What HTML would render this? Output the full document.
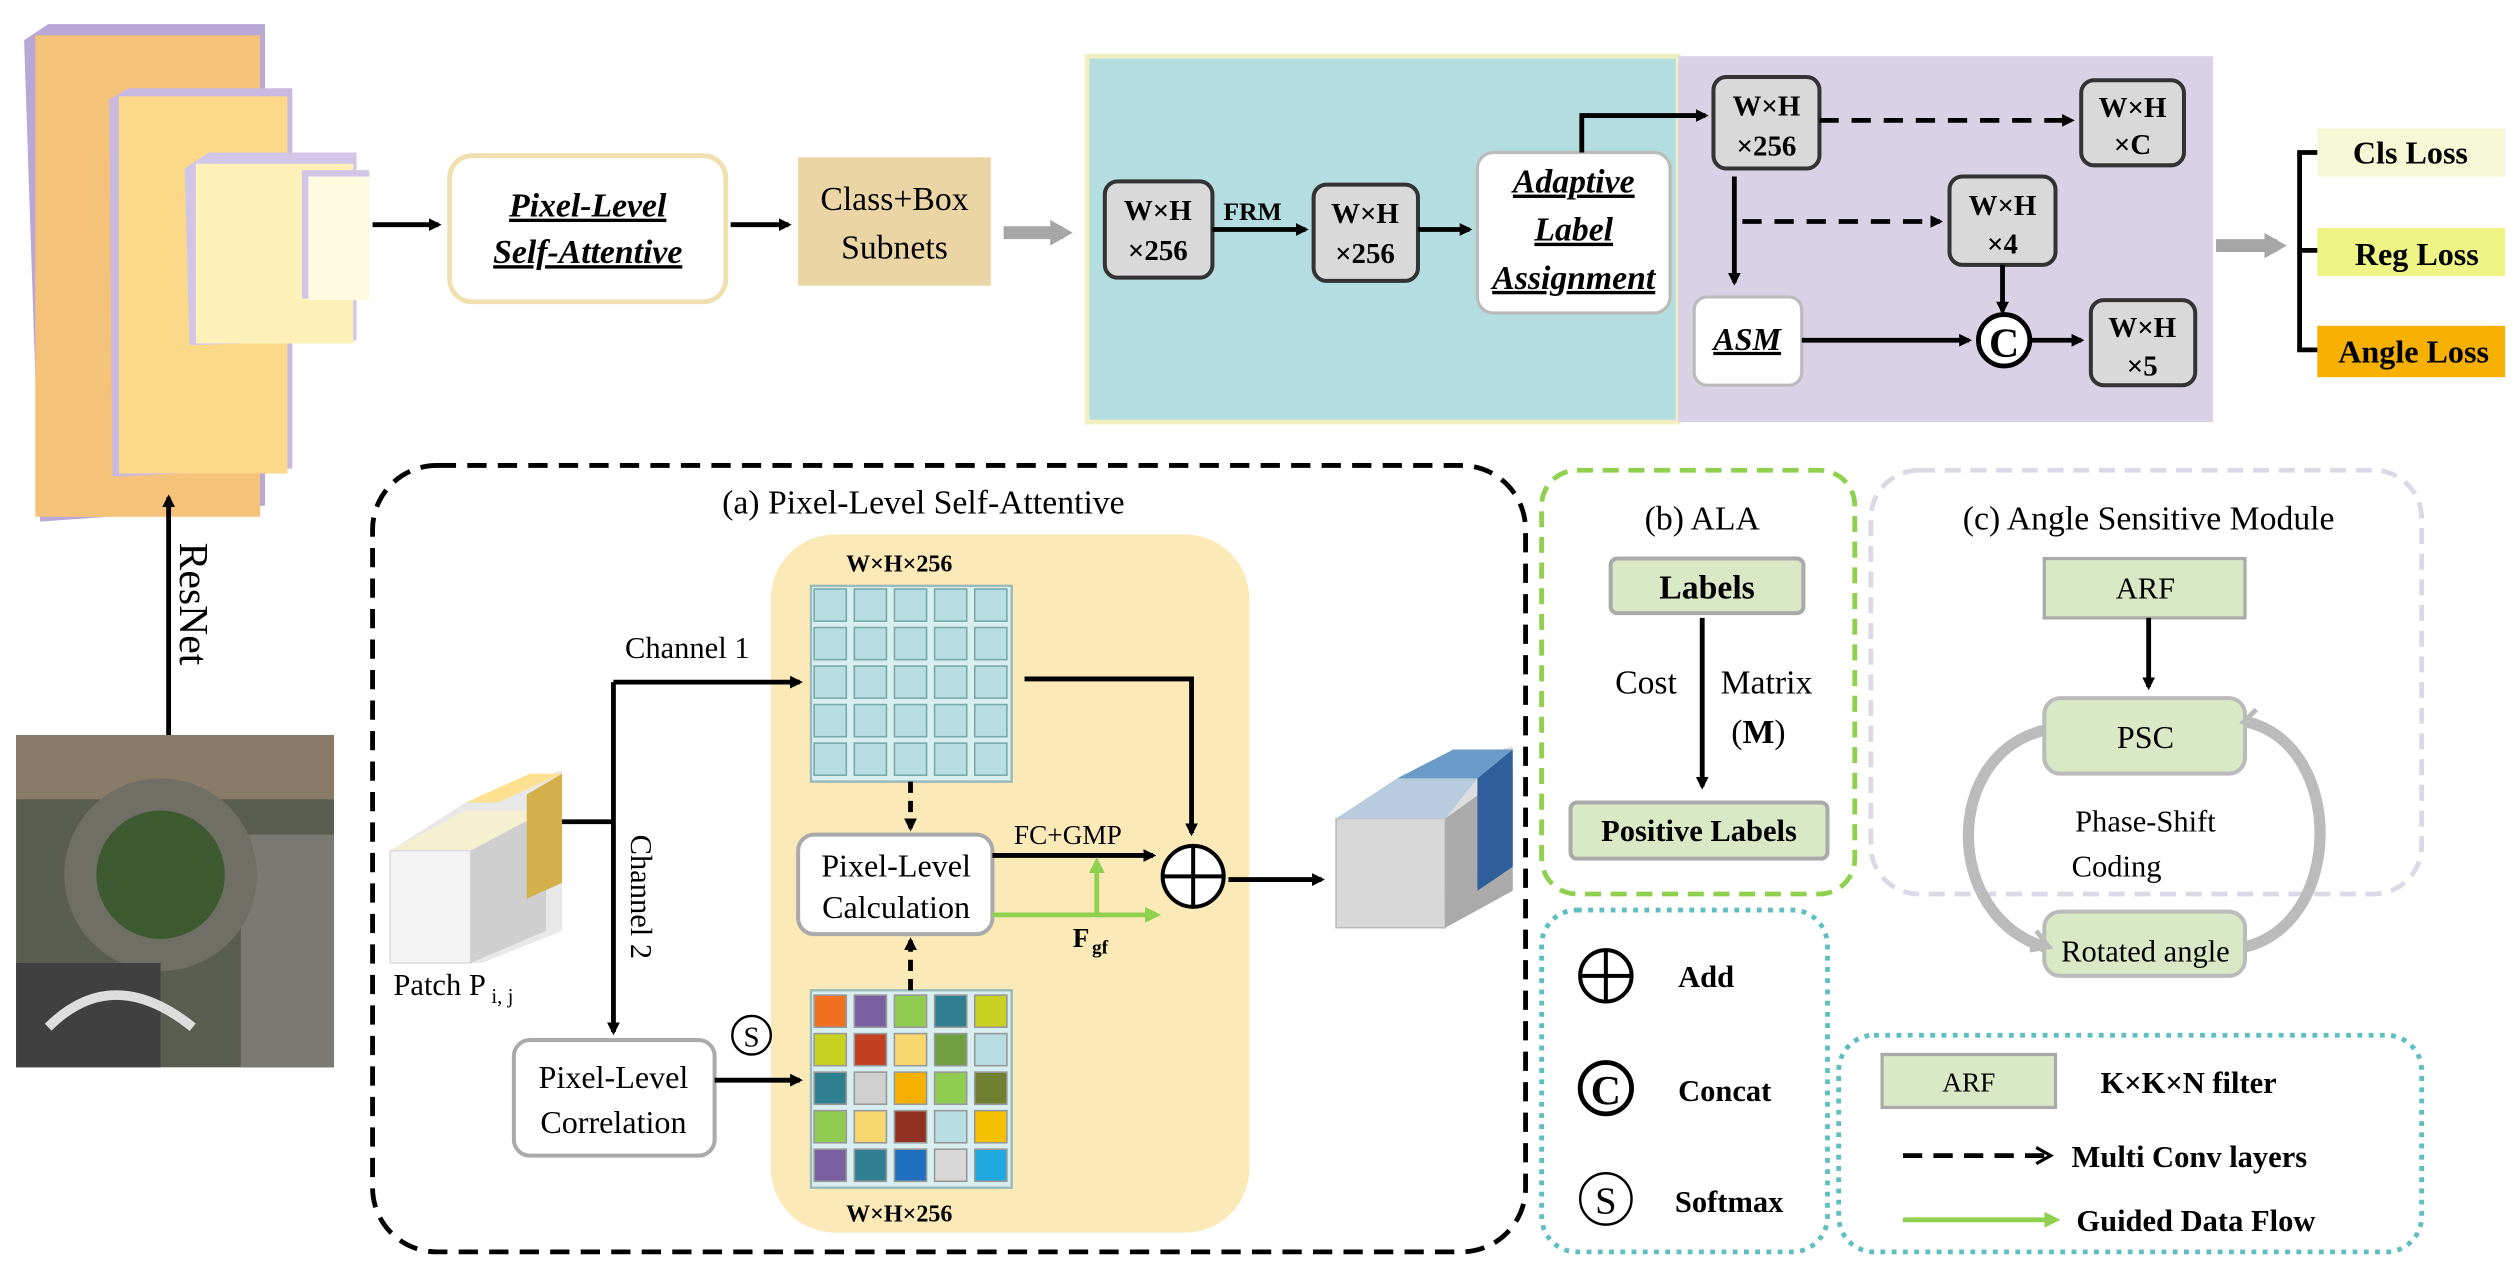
<!DOCTYPE html>
<html><head><meta charset="utf-8"><style>
html,body{margin:0;padding:0;background:#fff;}
svg{display:block;}
svg text{font-family:"Liberation Serif","Times New Roman",serif;fill:#000;}
</style></head><body>
<svg width="2518" height="1284" viewBox="0 0 1568 800" preserveAspectRatio="none" xmlns="http://www.w3.org/2000/svg" font-family="Liberation Serif, serif">
<defs>
<marker id="ab" markerWidth="8" markerHeight="8" refX="6" refY="4" orient="auto" markerUnits="userSpaceOnUse"><path d="M0,0 L8,4 L0,8 z" fill="#000"/></marker>
<marker id="ag" markerWidth="10" markerHeight="10" refX="7" refY="5" orient="auto" markerUnits="userSpaceOnUse"><path d="M0,0 L10,5 L0,10 z" fill="#8fd14f"/></marker>
<marker id="agr" markerWidth="14" markerHeight="16" refX="8" refY="8" orient="auto" markerUnits="userSpaceOnUse"><path d="M0,0 L14,8 L0,16 z" fill="#a6a6a6"/></marker>
<marker id="ao" markerWidth="12" markerHeight="12" refX="9" refY="6" orient="auto" markerUnits="userSpaceOnUse"><path d="M1,1 L10,6 L1,11" fill="none" stroke="#000" stroke-width="2"/></marker>
</defs>

<!-- feature pyramid -->
<polygon points="15,25 30,15 165,15 165,315 25,325" fill="#b9a7d6"/>
<rect x="22" y="22" width="140" height="300" fill="#f5c27a"/>
<polygon points="68,62 80,55 182,55 182,292 70,297" fill="#c9b9e0"/>
<rect x="74" y="60" width="105" height="235" fill="#fbd988"/>
<polygon points="115,105 130,95 222,95 222,212 118,215" fill="#d2c6e8"/>
<rect x="122" y="102" width="98" height="112" fill="#fdf0b8"/>
<rect x="188" y="106" width="42" height="80" fill="#d2c6e8"/>
<rect x="192" y="110" width="38" height="77" fill="#fefbe0"/>

<line x1="105" y1="458" x2="105" y2="310" stroke="#000" stroke-width="3" marker-end="url(#ab)"/>
<text x="0" y="0" font-size="26" transform="translate(112,338) rotate(90)">ResNet</text>

<!-- aerial image -->
<rect x="10" y="458" width="198" height="207" fill="#5a5e50"/>
<rect x="10" y="458" width="198" height="40" fill="#8a7a68"/>
<rect x="150" y="520" width="58" height="145" fill="#7a7a72"/>
<circle cx="100" cy="545" r="60" fill="#6f6f66"/>
<circle cx="100" cy="545" r="40" fill="#3d5a30"/>
<rect x="10" y="600" width="90" height="65" fill="#404040"/>
<path d="M30,640 Q70,600 120,640" stroke="#ddd" stroke-width="6" fill="none"/>

<line x1="232" y1="140" x2="273" y2="140" stroke="#000" stroke-width="3" marker-end="url(#ab)"/>
<rect x="280" y="97" width="172" height="91" rx="14" fill="#fff" stroke="#f0e0b0" stroke-width="3"/>
<text x="366" y="135" font-size="21" font-weight="bold" font-style="italic" text-anchor="middle" text-decoration="underline">Pixel-Level</text>
<text x="366" y="164" font-size="21" font-weight="bold" font-style="italic" text-anchor="middle" text-decoration="underline">Self-Attentive</text>
<line x1="455" y1="140" x2="491" y2="140" stroke="#000" stroke-width="3" marker-end="url(#ab)"/>
<rect x="497" y="98" width="120" height="80" fill="#ecd5a5"/>
<text x="557" y="131" font-size="21" text-anchor="middle">Class+Box</text>
<text x="557" y="161" font-size="21" text-anchor="middle">Subnets</text>
<line x1="625" y1="145" x2="662" y2="145" stroke="#a6a6a6" stroke-width="8" marker-end="url(#agr)"/>

<!-- top panels -->
<rect x="677" y="35" width="368" height="228" fill="#b3dde0" stroke="#f0efc0" stroke-width="3"/>
<rect x="1045" y="35" width="333" height="228" fill="#d9d2e6"/>

<g font-size="18" font-weight="bold" text-anchor="middle">
<rect x="688" y="113" width="67" height="60" rx="8" fill="#d9d9d9" stroke="#333" stroke-width="2.5"/>
<text x="721" y="137">W×H</text><text x="721" y="162">×256</text>
<rect x="818" y="115" width="65" height="60" rx="8" fill="#d9d9d9" stroke="#333" stroke-width="2.5"/>
<text x="850" y="139">W×H</text><text x="850" y="164">×256</text>
<rect x="1067" y="48" width="66" height="57" rx="8" fill="#d9d9d9" stroke="#333" stroke-width="2.5"/>
<text x="1100" y="72">W×H</text><text x="1100" y="97">×256</text>
<rect x="1296" y="50" width="64" height="53" rx="8" fill="#d9d9d9" stroke="#333" stroke-width="2.5"/>
<text x="1328" y="73">W×H</text><text x="1328" y="96">×C</text>
<rect x="1214" y="110" width="66" height="55" rx="8" fill="#d9d9d9" stroke="#333" stroke-width="2.5"/>
<text x="1247" y="134">W×H</text><text x="1247" y="158">×4</text>
<rect x="1302" y="187" width="65" height="53" rx="8" fill="#d9d9d9" stroke="#333" stroke-width="2.5"/>
<text x="1334" y="210">W×H</text><text x="1334" y="234">×5</text>
</g>
<line x1="755" y1="143" x2="813" y2="143" stroke="#000" stroke-width="3" marker-end="url(#ab)"/>
<text x="780" y="137" font-size="16" font-weight="bold" text-anchor="middle">FRM</text>
<line x1="883" y1="143" x2="915" y2="143" stroke="#000" stroke-width="3" marker-end="url(#ab)"/>
<rect x="920" y="95" width="120" height="100" rx="10" fill="#fff" stroke="#bbb" stroke-width="2"/>
<g font-size="21" font-weight="bold" font-style="italic" text-anchor="middle" text-decoration="underline">
<text x="980" y="120">Adaptive</text><text x="980" y="150">Label</text><text x="980" y="180">Assignment</text></g>
<polyline points="985,95 985,72 1062,72" fill="none" stroke="#000" stroke-width="3" marker-end="url(#ab)"/>
<line x1="1133" y1="75" x2="1290" y2="75" stroke="#000" stroke-width="3" stroke-dasharray="12,8" marker-end="url(#ab)"/>
<line x1="1080" y1="110" x2="1080" y2="176" stroke="#000" stroke-width="3" marker-end="url(#ab)"/>
<line x1="1085" y1="138" x2="1208" y2="138" stroke="#000" stroke-width="3" stroke-dasharray="12,8" marker-end="url(#ab)"/>
<line x1="1247" y1="165" x2="1247" y2="194" stroke="#000" stroke-width="3" marker-end="url(#ab)"/>
<rect x="1055" y="185" width="67" height="55" rx="8" fill="#fff" stroke="#bbb" stroke-width="2"/>
<text x="1088" y="218" font-size="20" font-weight="bold" font-style="italic" text-anchor="middle" text-decoration="underline">ASM</text>
<line x1="1122" y1="212" x2="1226" y2="212" stroke="#000" stroke-width="3" marker-end="url(#ab)"/>
<circle cx="1248" cy="212" r="16" fill="#fff" stroke="#000" stroke-width="3"/>
<text x="1248" y="222" font-size="26" font-weight="bold" text-anchor="middle">C</text>
<line x1="1265" y1="212" x2="1296" y2="212" stroke="#000" stroke-width="3" marker-end="url(#ab)"/>
<line x1="1380" y1="153" x2="1418" y2="153" stroke="#a6a6a6" stroke-width="8" marker-end="url(#agr)"/>
<polyline points="1445,95 1432,95 1432,218 1445,218" fill="none" stroke="#000" stroke-width="3"/>
<line x1="1432" y1="156" x2="1445" y2="156" stroke="#000" stroke-width="3"/>
<rect x="1443" y="80" width="117" height="30" fill="#f7f9d6"/>
<rect x="1443" y="142" width="117" height="30" fill="#eef585"/>
<rect x="1443" y="203" width="117" height="32" fill="#f5b000"/>
<g font-size="20" font-weight="bold" text-anchor="middle">
<text x="1501" y="102">Cls Loss</text><text x="1505" y="165">Reg Loss</text><text x="1503" y="226">Angle Loss</text></g>

<!-- (a) -->
<rect x="232" y="290" width="718" height="490" rx="40" fill="none" stroke="#000" stroke-width="3" stroke-dasharray="12,7"/>
<text x="575" y="320" font-size="21" text-anchor="middle">(a)  Pixel-Level Self-Attentive</text>
<rect x="480" y="333" width="298" height="435" rx="40" fill="#fbeab8"/>
<text x="560" y="356" font-size="15" font-weight="bold" text-anchor="middle">W×H×256</text>
<text x="560" y="761" font-size="15" font-weight="bold" text-anchor="middle">W×H×256</text>
<rect x="505" y="365" width="125" height="122" fill="#d8eef0" stroke="#9bb" stroke-width="1.5"/>
<g fill="#b8dde3" stroke="#7aa" stroke-width="1">
<rect x="507" y="367" width="20" height="20"/><rect x="532" y="367" width="20" height="20"/><rect x="557" y="367" width="20" height="20"/><rect x="582" y="367" width="20" height="20"/><rect x="607" y="367" width="20" height="20"/>
<rect x="507" y="391" width="20" height="20"/><rect x="532" y="391" width="20" height="20"/><rect x="557" y="391" width="20" height="20"/><rect x="582" y="391" width="20" height="20"/><rect x="607" y="391" width="20" height="20"/>
<rect x="507" y="415" width="20" height="20"/><rect x="532" y="415" width="20" height="20"/><rect x="557" y="415" width="20" height="20"/><rect x="582" y="415" width="20" height="20"/><rect x="607" y="415" width="20" height="20"/>
<rect x="507" y="439" width="20" height="20"/><rect x="532" y="439" width="20" height="20"/><rect x="557" y="439" width="20" height="20"/><rect x="582" y="439" width="20" height="20"/><rect x="607" y="439" width="20" height="20"/>
<rect x="507" y="463" width="20" height="20"/><rect x="532" y="463" width="20" height="20"/><rect x="557" y="463" width="20" height="20"/><rect x="582" y="463" width="20" height="20"/><rect x="607" y="463" width="20" height="20"/>
</g>
<rect x="505" y="617" width="125" height="123" fill="#d8eef0" stroke="#9bb" stroke-width="1.5"/>
<g stroke="#999" stroke-width="1">
<rect x="507" y="620" width="20" height="20" fill="#f07020"/><rect x="532" y="620" width="20" height="20" fill="#7a5fa0"/><rect x="557" y="620" width="20" height="20" fill="#90cc50"/><rect x="582" y="620" width="20" height="20" fill="#2e7f8f"/><rect x="607" y="620" width="20" height="20" fill="#c8d020"/>
<rect x="507" y="644" width="20" height="20" fill="#c8d020"/><rect x="532" y="644" width="20" height="20" fill="#c04020"/><rect x="557" y="644" width="20" height="20" fill="#fad870"/><rect x="582" y="644" width="20" height="20" fill="#70a040"/><rect x="607" y="644" width="20" height="20" fill="#b8dde3"/>
<rect x="507" y="668" width="20" height="20" fill="#2e7f8f"/><rect x="532" y="668" width="20" height="20" fill="#d0d0d0"/><rect x="557" y="668" width="20" height="20" fill="#f5b000"/><rect x="582" y="668" width="20" height="20" fill="#90cc50"/><rect x="607" y="668" width="20" height="20" fill="#708030"/>
<rect x="507" y="692" width="20" height="20" fill="#90cc50"/><rect x="532" y="692" width="20" height="20" fill="#fad870"/><rect x="557" y="692" width="20" height="20" fill="#903020"/><rect x="582" y="692" width="20" height="20" fill="#b8dde3"/><rect x="607" y="692" width="20" height="20" fill="#f5c000"/>
<rect x="507" y="716" width="20" height="20" fill="#7a5fa0"/><rect x="532" y="716" width="20" height="20" fill="#2e7f8f"/><rect x="557" y="716" width="20" height="20" fill="#1e6fc0"/><rect x="582" y="716" width="20" height="20" fill="#d8d8d8"/><rect x="607" y="716" width="20" height="20" fill="#20a8e0"/>
</g>
<!-- patch cube -->
<polygon points="243,530 290,500 350,480 350,580 300,600 243,600" fill="#e8e8e8"/>
<polygon points="243,530 290,505 340,505 293,530" fill="#f6f0d0"/>
<rect x="243" y="530" width="50" height="70" fill="#f4f4f4" stroke="#ddd"/>
<polygon points="293,530 340,505 340,580 293,600" fill="#cfcfcf"/>
<polygon points="290,500 330,482 350,482 310,500" fill="#fde090"/>
<polygon points="328,495 350,482 350,550 328,560" fill="#d4b04a"/>
<text x="245" y="620" font-size="19">Patch  P</text><text x="306" y="625" font-size="13">i, j</text>
<line x1="350" y1="512" x2="382" y2="512" stroke="#000" stroke-width="3"/>
<line x1="382" y1="425" x2="382" y2="643" stroke="#000" stroke-width="3" marker-end="url(#ab)"/>
<line x1="382" y1="425" x2="498" y2="425" stroke="#000" stroke-width="3" marker-end="url(#ab)"/>
<text x="428" y="410" font-size="19" text-anchor="middle">Channel 1</text>
<text x="0" y="0" font-size="19" transform="translate(393,520) rotate(90)">Channel 2</text>
<rect x="320" y="648" width="125" height="72" rx="10" fill="#fff" stroke="#aaa" stroke-width="2.5"/>
<text x="382" y="678" font-size="20" text-anchor="middle">Pixel-Level</text>
<text x="382" y="706" font-size="20" text-anchor="middle">Correlation</text>
<line x1="445" y1="673" x2="498" y2="673" stroke="#000" stroke-width="3" marker-end="url(#ab)"/>
<circle cx="468" cy="645" r="12" fill="#fff" stroke="#000" stroke-width="1.5"/>
<text x="468" y="652" font-size="18" text-anchor="middle">S</text>
<rect x="497" y="520" width="121" height="62" rx="10" fill="#fff" stroke="#aaa" stroke-width="2.5"/>
<text x="558" y="546" font-size="20" text-anchor="middle">Pixel-Level</text>
<text x="558" y="572" font-size="20" text-anchor="middle">Calculation</text>
<line x1="567" y1="487" x2="567" y2="516" stroke="#000" stroke-width="3" stroke-dasharray="7,5" marker-end="url(#ab)"/>
<line x1="567" y1="617" x2="567" y2="586" stroke="#000" stroke-width="3" stroke-dasharray="7,5" marker-end="url(#ab)"/>
<line x1="618" y1="533" x2="718" y2="533" stroke="#000" stroke-width="3" marker-end="url(#ab)"/>
<text x="665" y="526" font-size="17" text-anchor="middle">FC+GMP</text>
<line x1="618" y1="570" x2="720" y2="570" stroke="#8fd14f" stroke-width="3" marker-end="url(#ag)"/>
<line x1="683" y1="570" x2="683" y2="537" stroke="#8fd14f" stroke-width="3" marker-end="url(#ag)"/>
<text x="668" y="590" font-size="17" font-weight="bold">F</text><text x="680" y="594" font-size="12" font-weight="bold">gf</text>
<polyline points="638,423 742,423 742,519" fill="none" stroke="#000" stroke-width="3" marker-end="url(#ab)"/>
<circle cx="743" cy="546" r="19" fill="#fff" stroke="#000" stroke-width="2.5"/>
<line x1="724" y1="546" x2="762" y2="546" stroke="#000" stroke-width="2.5"/><line x1="743" y1="527" x2="743" y2="565" stroke="#000" stroke-width="2.5"/>
<line x1="765" y1="548" x2="823" y2="548" stroke="#000" stroke-width="3" marker-end="url(#ab)"/>
<!-- output cube -->
<polygon points="832,510 870,485 942,465 942,555 900,578 832,578" fill="#ddd"/>
<rect x="832" y="510" width="68" height="68" fill="#d8d8d8" stroke="#bbb"/>
<polygon points="900,510 942,480 942,555 900,578" fill="#aaa"/>
<polygon points="832,510 870,485 920,485 900,510" fill="#b8cce0"/>
<polygon points="870,485 905,467 942,467 920,485" fill="#6a9ac8"/>
<polygon points="920,485 942,467 942,540 920,555" fill="#2e5f9a"/>

<!-- (b) ALA -->
<rect x="960" y="293" width="195" height="264" rx="22" fill="none" stroke="#8fd14f" stroke-width="3" stroke-dasharray="10,6"/>
<text x="1060" y="330" font-size="21" text-anchor="middle">(b)  ALA</text>
<rect x="1003" y="348" width="120" height="34" rx="4" fill="#d9e8c5" stroke="#aaa" stroke-width="2.5"/>
<text x="1063" y="373" font-size="21" font-weight="bold" text-anchor="middle">Labels</text>
<text x="1025" y="432" font-size="21" text-anchor="middle">Cost</text>
<text x="1100" y="432" font-size="21" text-anchor="middle">Matrix</text>
<text x="1095" y="463" font-size="21" text-anchor="middle">(<tspan font-weight="bold">M</tspan>)</text>
<line x1="1060" y1="385" x2="1060" y2="490" stroke="#000" stroke-width="3" marker-end="url(#ab)"/>
<rect x="978" y="500" width="160" height="35" rx="4" fill="#d9e8c5" stroke="#aaa" stroke-width="2.5"/>
<text x="1058" y="524" font-size="19" font-weight="bold" text-anchor="middle">Positive Labels</text>

<!-- (c) -->
<rect x="1165" y="293" width="343" height="264" rx="30" fill="none" stroke="#ddd8e6" stroke-width="3" stroke-dasharray="10,6"/>
<text x="1338" y="330" font-size="21" text-anchor="middle">(c)  Angle Sensitive Module</text>
<rect x="1273" y="348" width="125" height="37" fill="#d9e8c5" stroke="#aaa" stroke-width="2"/>
<text x="1336" y="373" font-size="19" text-anchor="middle">ARF</text>
<line x1="1338" y1="385" x2="1338" y2="428" stroke="#000" stroke-width="3" marker-end="url(#ab)"/>
<rect x="1273" y="435" width="125" height="47" rx="10" fill="#d9e8c5" stroke="#bbb" stroke-width="2.5"/>
<text x="1336" y="466" font-size="20" text-anchor="middle">PSC</text>
<text x="1336" y="518" font-size="19" text-anchor="middle">Phase-Shift</text>
<text x="1318" y="546" font-size="19" text-anchor="middle">Coding</text>
<rect x="1273" y="568" width="125" height="40" rx="10" fill="#d9e8c5" stroke="#bbb" stroke-width="2.5"/>
<text x="1336" y="599" font-size="19" text-anchor="middle">Rotated angle</text>
<path d="M1273,455 C1210,470 1210,570 1273,590" fill="none" stroke="#bbb" stroke-width="7"/>
<path d="M1268,580 l8,10 l-12,2" fill="none" stroke="#bbb" stroke-width="3"/>
<path d="M1398,590 C1460,575 1460,465 1400,450" fill="none" stroke="#bbb" stroke-width="7"/>
<path d="M1405,442 l-8,8 l10,4" fill="none" stroke="#bbb" stroke-width="3"/>

<!-- legend 1 -->
<rect x="960" y="567" width="178" height="213" rx="22" fill="none" stroke="#5fbfc0" stroke-width="3" stroke-dasharray="3,4"/>
<circle cx="1000" cy="608" r="16" fill="none" stroke="#000" stroke-width="2.5"/>
<line x1="984" y1="608" x2="1016" y2="608" stroke="#000" stroke-width="2.5"/><line x1="1000" y1="592" x2="1000" y2="624" stroke="#000" stroke-width="2.5"/>
<text x="1045" y="615" font-size="19" font-weight="bold">Add</text>
<circle cx="1000" cy="678" r="16" fill="none" stroke="#000" stroke-width="3"/>
<text x="1000" y="688" font-size="26" font-weight="bold" text-anchor="middle">C</text>
<text x="1045" y="686" font-size="19" font-weight="bold">Concat</text>
<circle cx="1000" cy="747" r="16" fill="none" stroke="#000" stroke-width="1.5"/>
<text x="1000" y="756" font-size="24" text-anchor="middle">S</text>
<text x="1043" y="755" font-size="19" font-weight="bold">Softmax</text>

<!-- legend 2 -->
<rect x="1145" y="645" width="363" height="135" rx="22" fill="none" stroke="#5fbfc0" stroke-width="3" stroke-dasharray="3,4"/>
<rect x="1172" y="657" width="108" height="33" fill="#d9e8c5" stroke="#aaa" stroke-width="2"/>
<text x="1226" y="680" font-size="17" text-anchor="middle">ARF</text>
<text x="1308" y="681" font-size="19" font-weight="bold">K×K×N  filter</text>
<line x1="1185" y1="720" x2="1276" y2="720" stroke="#000" stroke-width="3" stroke-dasharray="12,7" marker-end="url(#ao)"/>
<text x="1290" y="727" font-size="19" font-weight="bold">Multi Conv layers</text>
<line x1="1185" y1="760" x2="1280" y2="760" stroke="#8fd14f" stroke-width="3" marker-end="url(#ag)"/>
<text x="1293" y="767" font-size="19" font-weight="bold">Guided Data Flow</text>
</svg>
</body></html>
